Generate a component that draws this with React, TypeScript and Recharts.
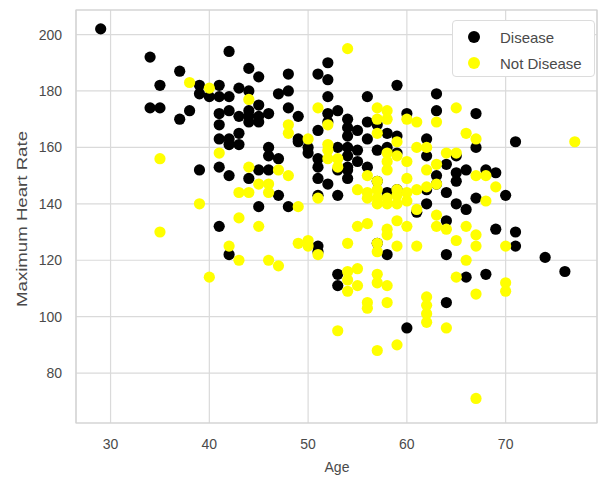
import { ScatterChart, Scatter, XAxis, YAxis, CartesianGrid, Legend, ReferenceArea } from 'recharts';

const xTicks = [30, 40, 50, 60, 70];
const yTicks = [80, 100, 120, 140, 160, 180, 200];

// [age, maximum heart rate]
const diseasePoints: [number, number][] = [
  [29, 202],
  [34, 192], [34, 174],
  [35, 182], [35, 174],
  [37, 187], [37, 170],
  [38, 173],
  [39, 182], [39, 179], [39, 152],
  [40, 178],
  [41, 182], [41, 178], [41, 172], [41, 168], [41, 163], [41, 153], [41, 132],
  [42, 194], [42, 178], [42, 173], [42, 163], [42, 161], [42, 150], [42, 122],
  [43, 181], [43, 171], [43, 165], [43, 161],
  [44, 188], [44, 180], [44, 173], [44, 171], [44, 169], [44, 149],
  [45, 185], [45, 175], [45, 171], [45, 169], [45, 152], [45, 139],
  [46, 172], [46, 160], [46, 157], [46, 152],
  [47, 179], [47, 156], [47, 143],
  [48, 186], [48, 180], [48, 174], [48, 139],
  [49, 171], [49, 163], [49, 162],
  [50, 160], [50, 158],
  [51, 186], [51, 166], [51, 156], [51, 153], [51, 149], [51, 143], [51, 125], [51, 123],
  [52, 190], [52, 184], [52, 178], [52, 172], [52, 169], [52, 147],
  [53, 173], [53, 160], [53, 152], [53, 143], [53, 115], [53, 111],
  [54, 170], [54, 167], [54, 164], [54, 160], [54, 157], [54, 153], [54, 152], [54, 149],
  [55, 166], [55, 159], [55, 155],
  [56, 178], [56, 169], [56, 163], [56, 153],
  [57, 168], [57, 159], [57, 148], [57, 126],
  [58, 165], [58, 160], [58, 144], [58, 122],
  [59, 182], [59, 164], [59, 158], [59, 145],
  [60, 172], [60, 96],
  [61, 137],
  [62, 163], [62, 157], [62, 145], [62, 140],
  [63, 179], [63, 173], [63, 150], [63, 147],
  [64, 154], [64, 144], [64, 134], [64, 122], [64, 105],
  [65, 157], [65, 151], [65, 148], [65, 140],
  [66, 152], [66, 138], [66, 114],
  [67, 172], [67, 160], [67, 142],
  [68, 152], [68, 115],
  [69, 151], [69, 131],
  [70, 143],
  [71, 162], [71, 130], [71, 125],
  [74, 121],
  [76, 116],
];

const notDiseasePoints: [number, number][] = [
  [35, 156], [35, 130],
  [38, 183],
  [39, 140],
  [40, 181], [40, 114],
  [41, 158],
  [42, 125],
  [43, 144], [43, 135], [43, 120],
  [44, 177], [44, 153], [44, 144],
  [45, 147], [45, 132],
  [46, 147], [46, 144], [46, 120],
  [47, 152], [47, 118],
  [48, 168], [48, 165], [48, 150],
  [49, 139], [49, 126],
  [50, 163], [50, 127], [50, 125],
  [51, 174], [51, 142], [51, 122],
  [52, 168], [52, 161], [52, 159], [52, 156],
  [53, 156], [53, 153], [53, 95],
  [54, 195], [54, 126], [54, 116], [54, 113], [54, 109],
  [55, 145], [55, 132], [55, 117], [55, 111],
  [56, 150], [56, 144], [56, 142], [56, 133], [56, 105], [56, 103],
  [57, 174], [57, 170], [57, 165], [57, 148], [57, 145], [57, 142], [57, 140], [57, 126], [57, 123], [57, 115], [57, 112], [57, 88],
  [58, 173], [58, 170], [58, 158], [58, 155], [58, 152], [58, 142], [58, 140], [58, 131], [58, 129], [58, 111], [58, 105],
  [59, 162], [59, 157], [59, 145], [59, 143], [59, 140], [59, 134], [59, 125], [59, 90],
  [60, 170], [60, 155], [60, 149], [60, 144], [60, 141], [60, 132],
  [61, 169], [61, 160], [61, 145], [61, 138], [61, 125],
  [62, 160], [62, 152], [62, 146], [62, 107], [62, 104], [62, 101], [62, 98],
  [63, 169], [63, 154], [63, 147], [63, 136], [63, 132],
  [64, 158], [64, 131], [64, 96],
  [65, 174], [65, 158], [65, 127], [65, 114],
  [66, 165], [66, 132], [66, 120],
  [67, 163], [67, 150], [67, 129], [67, 125], [67, 108], [67, 71],
  [68, 150], [68, 141],
  [69, 146],
  [70, 125], [70, 112], [70, 109],
  [77, 162],
];

const SERIES = [
  { name: 'Disease', color: '#000000', points: diseasePoints },
  { name: 'Not Disease', color: '#ffff00', points: notDiseasePoints },
];

const X_DOMAIN: [number, number] = [26.5, 79.25];
const Y_DOMAIN: [number, number] = [62.3, 208.7];
const FONT = '"Liberation Sans", Arial, sans-serif';
const TEXT = '#4a4a4a';
const GRID = '#dadada';

const toRows = (pts: [number, number][]) => pts.map(([age, rate]) => ({ age, rate }));

const renderDot = (props: any) => (
  <circle cx={props.cx} cy={props.cy} r={5.6} fill={props.fill} />
);

const LegendBox = () => (
  <div
    style={{
      width: 143,
      height: 57,
      boxSizing: 'border-box',
      border: '1px solid #dcdcdc',
      borderRadius: 4,
      background: '#fff',
      fontFamily: FONT,
      fontSize: 15,
      color: TEXT,
      paddingTop: 3,
    }}
  >
    {SERIES.map((s) => (
      <div key={s.name} style={{ display: 'flex', alignItems: 'center', height: 26 }}>
        <span
          style={{
            display: 'inline-block',
            width: 12,
            height: 12,
            borderRadius: '50%',
            background: s.color,
            marginLeft: 15,
            marginRight: 20,
          }}
        />
        <span>{s.name}</span>
      </div>
    ))}
  </div>
);

export default function App() {
  return (
    <div style={{ width: 605, height: 480, background: '#fff' }}>
      <style>{'body{margin:0;background:#fff}'}</style>
      <ScatterChart width={605} height={480} margin={{ top: 10, right: 8, bottom: 0, left: 0 }}>
        <CartesianGrid stroke={GRID} strokeWidth={1.2} />
        <ReferenceArea
          x1={X_DOMAIN[0]}
          x2={X_DOMAIN[1]}
          y1={Y_DOMAIN[0]}
          y2={Y_DOMAIN[1]}
          fill="none"
          stroke="#d2d2d2"
          strokeWidth={1.2}
          ifOverflow="visible"
        />
        <XAxis
          type="number"
          dataKey="age"
          domain={X_DOMAIN}
          ticks={xTicks}
          allowDataOverflow
          height={57}
          axisLine={false}
          tickLine={false}
          tickSize={0}
          tickMargin={16}
          tick={{ fill: TEXT, fontSize: 14, fontFamily: FONT }}
          label={{
            content: () => (
              <text x={337} y={472} textAnchor="middle" fill={TEXT} fontSize={14} fontFamily={FONT}>
                Age
              </text>
            ),
          }}
        />
        <YAxis
          type="number"
          dataKey="rate"
          domain={Y_DOMAIN}
          ticks={yTicks}
          allowDataOverflow
          width={76}
          axisLine={false}
          tickLine={false}
          tickSize={0}
          tickMargin={14}
          tick={{ fill: TEXT, fontSize: 14, fontFamily: FONT }}
          label={{
            content: () => (
              <text
                x={21.5}
                y={219}
                transform="rotate(-90 21.5 219)"
                textAnchor="middle"
                dominantBaseline="central"
                fill={TEXT}
                fontSize={14}
                fontFamily={FONT}
                textLength={176}
                lengthAdjust="spacingAndGlyphs"
              >
                Maximum Heart Rate
              </text>
            ),
          }}
        />
        <Legend
          layout="vertical"
          align="center"
          verticalAlign="middle"
          content={<LegendBox />}
          wrapperStyle={{ position: 'absolute', left: 452, top: 20, width: 143, height: 57 }}
        />
        {SERIES.map((s) => (
          <Scatter
            key={s.name}
            name={s.name}
            data={toRows(s.points)}
            fill={s.color}
            shape={renderDot}
            isAnimationActive={false}
          />
        ))}
      </ScatterChart>
    </div>
  );
}
